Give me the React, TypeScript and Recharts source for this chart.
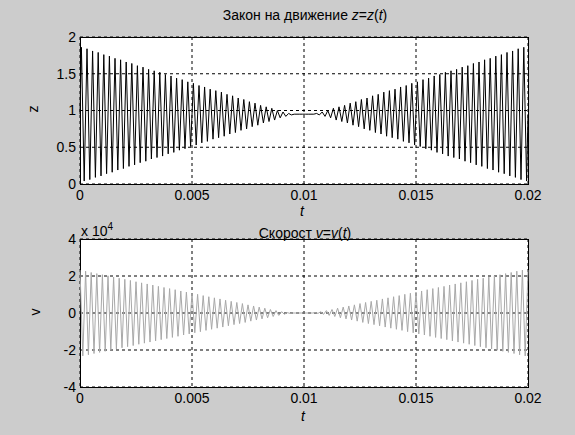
import { LineChart, Line, XAxis, YAxis, CartesianGrid } from 'recharts';

// one oscillation cycle lasts T seconds, 80 cycles across 0..0.02 s
const T = 0.00025;
const zMid = 0.95;

// z(t) amplitude per cycle
const zAmp = [
  0.91, 0.89, 0.86, 0.84, 0.81, 0.79, 0.76, 0.74, 0.71, 0.69,
  0.66, 0.64, 0.61, 0.59, 0.57, 0.54, 0.52, 0.49, 0.47, 0.44,
  0.42, 0.39, 0.37, 0.34, 0.32, 0.3, 0.27, 0.25, 0.22, 0.2,
  0.17, 0.15, 0.12, 0.1, 0.08, 0.05, 0.03, 0.01, 0, 0,
  0, 0, 0.01, 0.03, 0.05, 0.08, 0.1, 0.12, 0.15, 0.17,
  0.2, 0.22, 0.25, 0.27, 0.3, 0.32, 0.34, 0.37, 0.39, 0.42,
  0.44, 0.47, 0.49, 0.52, 0.54, 0.57, 0.59, 0.61, 0.64, 0.66,
  0.69, 0.71, 0.74, 0.76, 0.79, 0.81, 0.84, 0.86, 0.89, 0.91,
];

// v(t) amplitude per cycle
const vAmp = [
  23200, 22600, 21900, 21300, 20700, 20100, 19400, 18800, 18200, 17600,
  16900, 16300, 15700, 15100, 14400, 13800, 13200, 12600, 11900, 11300,
  10700, 10100, 9400, 8800, 8200, 7600, 6900, 6300, 5700, 5100,
  4400, 3800, 3200, 2600, 1900, 1300, 700, 200, 0, 0,
  0, 0, 200, 700, 1300, 1900, 2600, 3200, 3800, 4400,
  5100, 5700, 6300, 6900, 7600, 8200, 8800, 9400, 10100, 10700,
  11300, 11900, 12600, 13200, 13800, 14400, 15100, 15700, 16300, 16900,
  17600, 18200, 18800, 19400, 20100, 20700, 21300, 21900, 22600, 23200,
];

const xTicks = [0, 0.005, 0.01, 0.015, 0.02];
const zTicks = [0, 0.5, 1, 1.5, 2];
const vTicks = [-40000, -20000, 0, 20000, 40000];

const zData: { t: number; z: number }[] = [{ t: 0, z: zMid }];
zAmp.forEach((a, k) => {
  zData.push({ t: k * T + T / 4, z: zMid + a });
  zData.push({ t: k * T + (3 * T) / 4, z: zMid - a });
});
zData.push({ t: 0.02, z: zMid });

const vData: { t: number; v: number }[] = [];
vAmp.forEach((a, k) => {
  vData.push({ t: k * T, v: a });
  vData.push({ t: k * T + T / 2, v: -a });
});
vData.push({ t: 0.02, v: vAmp[vAmp.length - 1] });

const font = '"Liberation Sans", Arial, sans-serif';
const tickStyle = { fill: '#000', fontSize: 14, fontFamily: font };

const abs = (left: number, top: number): React.CSSProperties => ({
  position: 'absolute',
  left,
  top,
});

function PlotBox({ top, height }: { top: number; height: number }) {
  return (
    <div
      style={{
        ...abs(80, top),
        width: 449,
        height: height + 1,
        background: '#fff',
        border: '1px solid #000',
        boxSizing: 'border-box',
      }}
    />
  );
}

export default function App() {
  return (
    <div
      style={{
        ...abs(0, 0),
        width: 575,
        height: 435,
        background: '#cccccc',
        fontFamily: font,
        overflow: 'hidden',
        color: '#000',
      }}
    >
      <PlotBox top={37} height={147} />
      <PlotBox top={239} height={148} />

      <div style={abs(0, 0)}>
        <LineChart width={575} height={220} data={zData} margin={{ top: 37, right: 47, bottom: 6, left: 40 }}>
          <CartesianGrid stroke="#000" strokeDasharray="3 3" />
          <XAxis
            type="number"
            dataKey="t"
            domain={[0, 0.02]}
            ticks={xTicks}
            tickLine={false}
            axisLine={false}
            tickSize={6}
            tickMargin={0}
            height={30}
            tick={tickStyle}
            interval={0}
          />
          <YAxis
            type="number"
            domain={[0, 2]}
            ticks={zTicks}
            tickLine={false}
            axisLine={false}
            tickSize={4}
            tickMargin={0}
            width={40}
            tick={tickStyle}
            interval={0}
          />
          <Line dataKey="z" stroke="#000" strokeWidth={1} dot={false} isAnimationActive={false} />
        </LineChart>
      </div>

      <div style={abs(0, 220)}>
        <LineChart width={575} height={215} data={vData} margin={{ top: 19, right: 47, bottom: 18, left: 40 }}>
          <CartesianGrid stroke="#000" strokeDasharray="3 3" />
          <XAxis
            type="number"
            dataKey="t"
            domain={[0, 0.02]}
            ticks={xTicks}
            tickLine={false}
            axisLine={false}
            tickSize={6}
            tickMargin={0}
            height={30}
            tick={tickStyle}
            interval={0}
          />
          <YAxis
            type="number"
            domain={[-40000, 40000]}
            ticks={vTicks}
            tickFormatter={(v: number) => String(v / 10000)}
            tickLine={false}
            axisLine={false}
            tickSize={4}
            tickMargin={0}
            width={40}
            tick={tickStyle}
            interval={0}
          />
          <Line dataKey="v" stroke="#a8a8a8" strokeWidth={1} dot={false} isAnimationActive={false} />
        </LineChart>
      </div>

      <div style={{ ...abs(0, 7), width: 610, textAlign: 'center', fontSize: 14 }}>
        Закон на движение <i>z</i>=<i>z</i>(<i>t</i>)
      </div>
      <div style={{ ...abs(0, 225), width: 610, textAlign: 'center', fontSize: 14 }}>
        Скорост <i>v</i>=<i>v</i>(<i>t</i>)
      </div>
      <div style={{ ...abs(81, 221), fontSize: 14 }}>
        x 10<sup style={{ fontSize: 10 }}>4</sup>
      </div>
      <div style={{ ...abs(300, 203), fontSize: 14 }}>
        <i>t</i>
      </div>
      <div style={{ ...abs(301, 408), fontSize: 14 }}>
        <i>t</i>
      </div>
      <div style={{ ...abs(29, 101), fontSize: 14, transform: 'rotate(-90deg)' }}>z</div>
      <div style={{ ...abs(31, 304), fontSize: 14, transform: 'rotate(-90deg)' }}>v</div>
    </div>
  );
}
